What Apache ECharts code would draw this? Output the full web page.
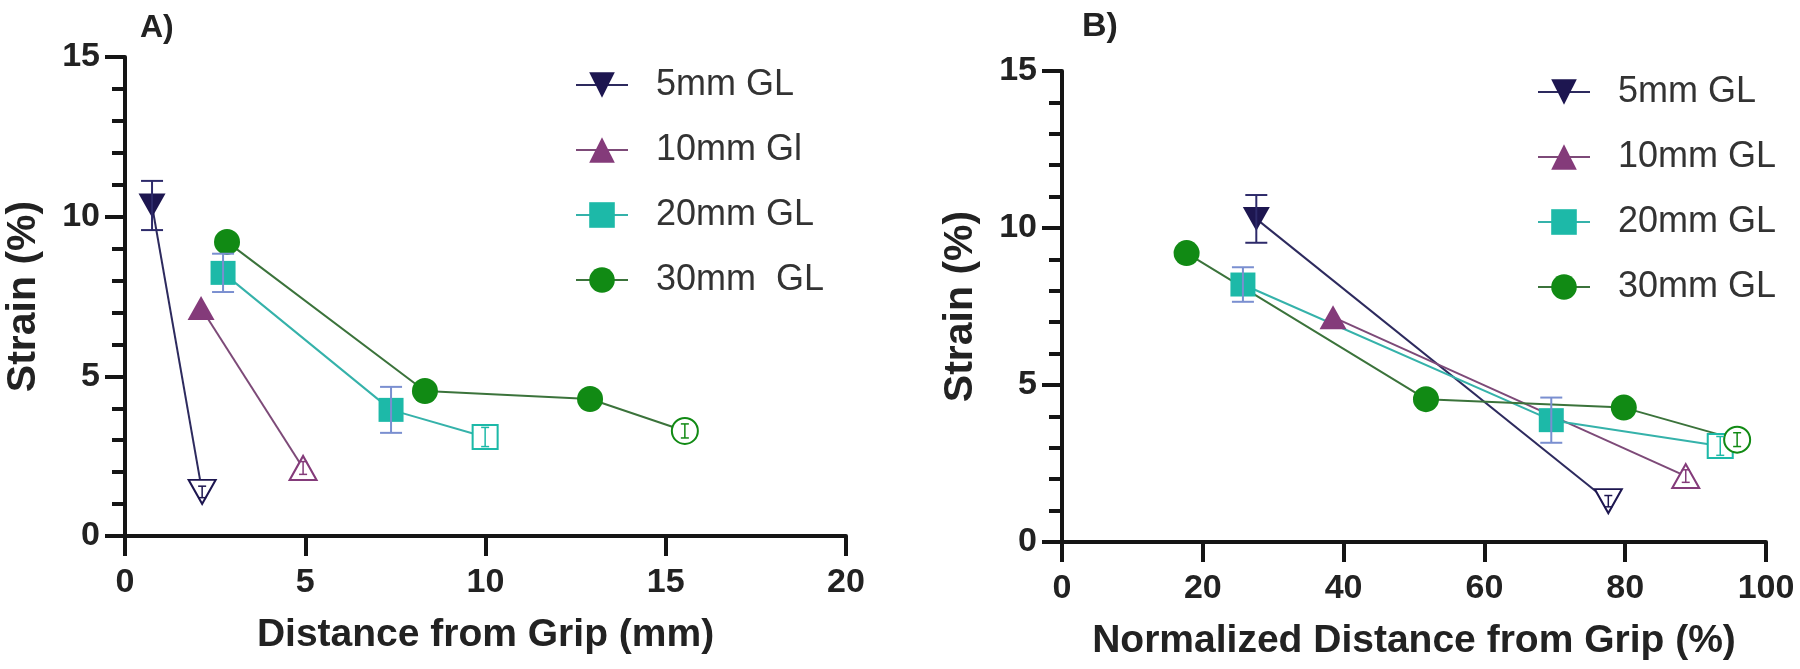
<!DOCTYPE html>
<html>
<head>
<meta charset="utf-8">
<script src="https://cdn.jsdelivr.net/npm/echarts@6/dist/echarts.min.js"></script>
<style>
html,body{margin:0;padding:0;background:#fff;}
#chart{width:1800px;height:669px;}
</style>
</head>
<body>
<div id="chart"></div>
<script>
// ---------- Panel A: Distance from Grip (mm) ----------
const A_5_x = [0.75, 2.14];
const A_5_y = [10.35, 1.38];
const A_5_err = [0.77, 0.18];
const A_10_x = [2.11, 4.94];
const A_10_y = [7.14, 2.13];
const A_10_err = [0, 0.2];
const A_20_x = [2.72, 7.38, 9.99];
const A_20_y = [8.24, 3.95, 3.10];
const A_20_err = [0.6, 0.72, 0.3];
const A_30_x = [2.83, 8.32, 12.9, 15.53];
const A_30_y = [9.21, 4.54, 4.29, 3.29];
const A_30_err = [0, 0, 0, 0.22];
const A_names = ['5mm GL', '10mm Gl', '20mm GL', '30mm  GL'];

// ---------- Panel B: Normalized Distance from Grip (%) ----------
const B_5_x = [27.6, 77.6];
const B_5_y = [10.29, 1.3];
const B_5_err = [0.76, 0.18];
const B_10_x = [38.5, 88.6];
const B_10_y = [7.16, 2.1];
const B_10_err = [0, 0.2];
const B_20_x = [25.7, 69.5, 93.5];
const B_20_y = [8.2, 3.88, 3.06];
const B_20_err = [0.55, 0.72, 0.3];
const B_30_x = [17.7, 51.7, 79.8, 95.9];
const B_30_y = [9.2, 4.55, 4.28, 3.26];
const B_30_err = [0, 0, 0, 0.22];
const B_names = ['5mm GL', '10mm GL', '20mm GL', '30mm GL'];

// tick settings
const yTicks = {min: 0, max: 15, interval: 5};
const xTicksA = {min: 0, max: 20, interval: 5};
const xTicksB = {min: 0, max: 100, interval: 20};

const FONT = "'Liberation Sans', Arial, Helvetica, sans-serif";
const AX = '#151515';

const styles = [
  {color: '#1d1650', line: '#2d2a5e', err: '#2d2a6a', symbol: 'path://M0,0L20,0L10,18Z', size: [27, 24]},
  {color: '#843b7a', line: '#7d4a78', err: '#9a5a92', symbol: 'triangle', size: [27, 24]},
  {color: '#1db9a8', line: '#35b2aa', err: '#7a8fd0', symbol: 'rect', size: [25, 24]},
  {color: '#118a14', line: '#3b733b', err: '#2f9a34', symbol: 'circle', size: 26}
];

function lineSeries(name, xs, ys, st, gi) {
  return {
    type: 'line', name: name, xAxisIndex: gi, yAxisIndex: gi,
    symbol: st.symbol, symbolSize: st.size, symbolKeepAspect: false,
    showAllSymbol: true, z: 2,
    itemStyle: {color: st.color},
    lineStyle: {color: st.line, width: 2},
    emphasis: {disabled: true},
    data: xs.map((x, i) => {
      const d = {value: [x, ys[i]]};
      if (i === xs.length - 1) {
        d.itemStyle = {color: '#ffffff', borderColor: st.color, borderWidth: 2};
      }
      return d;
    })
  };
}

function errSeries(xs, ys, es, st, gi) {
  const data = [];
  xs.forEach((x, i) => { if (es[i] > 0) data.push([x, ys[i] - es[i], ys[i] + es[i]]); });
  return {
    type: 'custom', xAxisIndex: gi, yAxisIndex: gi, z: 3, silent: true,
    encode: {x: 0, y: [1, 2]},
    renderItem: function (params, api) {
      const x = api.value(0);
      const top = api.coord([x, api.value(2)]);
      const bot = api.coord([x, api.value(1)]);
      const small = (bot[1] - top[1]) < 22;
      const hw = small ? 4 : 11;
      const col = small ? st.color : st.err;
      const s = {stroke: col, lineWidth: small ? 1.5 : 2};
      return {type: 'group', children: [
        {type: 'line', shape: {x1: top[0], y1: top[1], x2: bot[0], y2: bot[1]}, style: s},
        {type: 'line', shape: {x1: top[0] - hw, y1: top[1], x2: top[0] + hw, y2: top[1]}, style: s},
        {type: 'line', shape: {x1: bot[0] - hw, y1: bot[1], x2: bot[0] + hw, y2: bot[1]}, style: s}
      ]};
    },
    data: data
  };
}

function xAxisCfg(gi, t, name) {
  return {
    type: 'value', gridIndex: gi, min: t.min, max: t.max, interval: t.interval,
    name: name, nameLocation: 'middle', nameGap: 80,
    nameTextStyle: {fontSize: 39, fontWeight: 'bold', color: '#222', fontFamily: FONT},
    axisLine: {show: true, onZero: false, lineStyle: {color: AX, width: 4}},
    axisTick: {show: true, length: 20, lineStyle: {color: AX, width: 4}},
    axisLabel: {fontSize: 34, fontWeight: 'bold', color: '#222', margin: 30, fontFamily: FONT},
    splitLine: {show: false}
  };
}
function yAxisCfg(gi, t, name) {
  return {
    type: 'value', gridIndex: gi, min: t.min, max: t.max, interval: t.interval,
    name: name, nameLocation: 'middle', nameGap: 81,
    nameTextStyle: {fontSize: 41, fontWeight: 'bold', color: '#222', fontFamily: FONT},
    axisLine: {show: true, onZero: false, lineStyle: {color: AX, width: 4}},
    axisTick: {show: true, length: 20, lineStyle: {color: AX, width: 4}},
    minorTick: {show: true, splitNumber: 5, length: 13, lineStyle: {color: AX, width: 4}},
    axisLabel: {fontSize: 34, fontWeight: 'bold', color: '#222', margin: 25, fontFamily: FONT},
    splitLine: {show: false}
  };
}

function legendCfg(left, top, names) {
  return {
    orient: 'vertical', left: left, top: top, padding: 0,
    itemWidth: 52, itemHeight: 32, itemGap: 29,
    selectedMode: false,
    data: names,
    textStyle: {fontSize: 36, color: '#333', fontFamily: FONT, lineHeight: 32, padding: [0, 0, 0, 23]}
  };
}

const series = [];
const Adata = [[A_5_x, A_5_y, A_5_err], [A_10_x, A_10_y, A_10_err], [A_20_x, A_20_y, A_20_err], [A_30_x, A_30_y, A_30_err]];
const Bdata = [[B_5_x, B_5_y, B_5_err], [B_10_x, B_10_y, B_10_err], [B_20_x, B_20_y, B_20_err], [B_30_x, B_30_y, B_30_err]];
Adata.forEach((d, i) => { series.push(lineSeries(A_names[i], d[0], d[1], styles[i], 0)); });
Bdata.forEach((d, i) => { series.push(lineSeries(B_names[i], d[0], d[1], styles[i], 1)); });
Adata.forEach((d, i) => { series.push(errSeries(d[0], d[1], d[2], styles[i], 0)); });
Bdata.forEach((d, i) => { series.push(errSeries(d[0], d[1], d[2], styles[i], 1)); });

const option = {
  backgroundColor: '#ffffff',
  animation: false,
  textStyle: {fontFamily: FONT},
  title: [
    {text: 'A)', left: 140, top: 12, padding: 0, textStyle: {fontSize: 32, fontWeight: 'bold', color: '#222', fontFamily: FONT}},
    {text: 'B)', left: 1082, top: 10, padding: 0, textStyle: {fontSize: 34, fontWeight: 'bold', color: '#222', fontFamily: FONT}}
  ],
  legend: [legendCfg(575, 67, A_names), legendCfg(1537, 74, B_names)],
  grid: [
    {left: 125, top: 57, width: 721, height: 479, containLabel: false},
    {left: 1062, top: 71, width: 704, height: 471, containLabel: false}
  ],
  xAxis: [xAxisCfg(0, xTicksA, 'Distance from Grip (mm)'), xAxisCfg(1, xTicksB, 'Normalized Distance from Grip (%)')],
  yAxis: [yAxisCfg(0, yTicks, 'Strain (%)'), yAxisCfg(1, yTicks, 'Strain (%)')],
  series: series
};

const chart = echarts.init(document.getElementById('chart'), null, {renderer: 'canvas'});
chart.setOption(option);
</script>
</body>
</html>
